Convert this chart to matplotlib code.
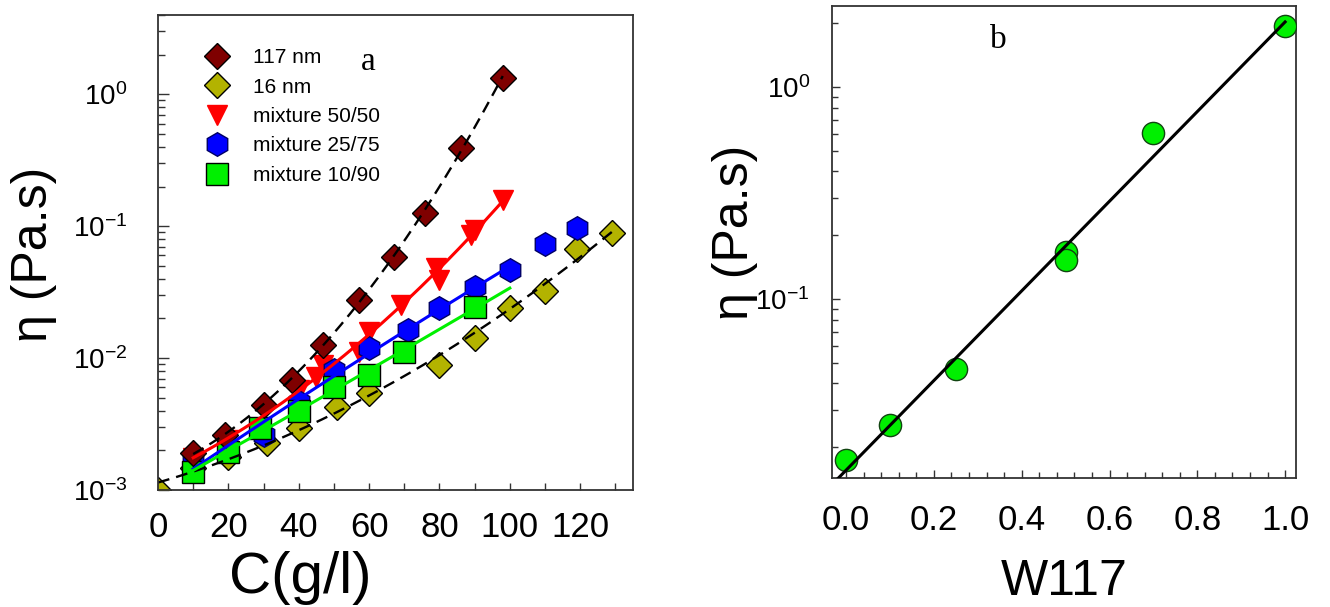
import numpy as np
import matplotlib
matplotlib.use("Agg")
import matplotlib.pyplot as plt
from matplotlib.ticker import LogLocator, NullFormatter, MultipleLocator, LogFormatterSciNotation

plt.rcParams['font.family'] = 'Liberation Sans'
plt.rcParams['mathtext.fontset'] = 'custom'
plt.rcParams['mathtext.rm'] = 'Liberation Sans'
plt.rcParams['mathtext.it'] = 'Liberation Sans:italic'
plt.rcParams['mathtext.bf'] = 'Liberation Sans:bold'
plt.rcParams['axes.unicode_minus'] = False

# panel a data: concentration (g/l) vs viscosity (Pa.s)
c_117 = [10, 19, 30, 38, 47, 57, 67, 76, 86, 98]
eta_117 = [1.91e-3, 2.62e-3, 4.42e-3, 6.84e-3, 0.0126, 0.0277, 0.0587, 0.127, 0.395, 1.34]

c_16 = [0, 10, 20, 31, 40, 51, 60, 80, 90, 100, 110, 119, 129]
eta_16 = [1.0e-3, 1.47e-3, 1.78e-3, 2.28e-3, 2.96e-3, 4.27e-3, 5.46e-3, 8.9e-3,
          0.01425, 0.0241, 0.0324, 0.0676, 0.0893]

c_5050 = [10, 20, 40, 45, 47, 57, 60, 69, 79, 80, 89, 90, 98]
eta_5050 = [1.75e-3, 2.4e-3, 5.7e-3, 7.2e-3, 8.9e-3, 0.0112, 0.0158, 0.0254,
            0.0485, 0.0394, 0.086, 0.0942, 0.159]

c_2575 = [10, 20, 30, 40, 50, 60, 71, 80, 90, 100, 110, 119]
eta_2575 = [1.66e-3, 2.1e-3, 2.6e-3, 4.65e-3, 8.1e-3, 0.012, 0.0164, 0.0241,
            0.0347, 0.0468, 0.0738, 0.0975]

c_1090 = [10, 20, 29, 40, 50, 60, 70, 90]
eta_1090 = [1.37e-3, 1.94e-3, 2.95e-3, 4.0e-3, 6.05e-3, 7.46e-3, 0.01117, 0.0245]

# panel b data: weight fraction of 117 nm particles
w117 = [0, 0.1, 0.25, 0.5, 0.5, 0.7, 1.0]
eta_w = [0.0174, 0.0255, 0.0468, 0.167, 0.153, 0.607, 1.94]

dark_red = '#7f0000'
olive = '#b3b300'
green = '#00f000'


def fit_line(x, y, lo, hi, deg=2):
    p = np.polyfit(x, np.log10(y), deg)
    xs = np.linspace(lo, hi, 200)
    return xs, 10 ** np.polyval(p, xs)


def style_axis(ax):
    for sp in ax.spines.values():
        sp.set_linewidth(1.3)
        sp.set_color('#333333')
    ax.tick_params(which='both', direction='in', top=False, right=False,
                   width=1.0, color='#333333')
    ax.tick_params(axis='x', labelsize=25)
    ax.tick_params(axis='y', labelsize=20)


fig = plt.figure(figsize=(13.3, 6.07), dpi=100)
ax1 = fig.add_axes([0.1188, 0.1928, 0.3571, 0.7825])
ax2 = fig.add_axes([0.6256, 0.2125, 0.3489, 0.7776])

# ---- panel a ----
h16, = ax1.plot(c_16, eta_16, 'D', ms=13.5, mfc=olive, mec='black', mew=1, ls='none', label='16 nm')
h50, = ax1.plot(c_5050, eta_5050, 'v', ms=15, mfc='#ff0000', mec='#ff0000', mew=1, ls='none', label='mixture 50/50')
h25, = ax1.plot(c_2575, eta_2575, 'h', ms=17, mfc='#0000ff', mec='#000066', mew=1, ls='none', label='mixture 25/75')
h10, = ax1.plot(c_1090, eta_1090, 's', ms=15.5, mfc=green, mec='black', mew=1, ls='none', label='mixture 10/90')
h117, = ax1.plot(c_117, eta_117, 'D', ms=13.5, mfc=dark_red, mec='black', mew=1, ls='none', label='117 nm')

xs, ys = fit_line(c_117, eta_117, 10, 98)
ax1.plot(xs, ys, color='black', lw=1.7, ls=(0, (5, 3)))
xs, ys = fit_line(c_16, eta_16, 0, 129)
ax1.plot(xs, ys, color='black', lw=1.7, ls=(0, (5, 3)))
xs, ys = fit_line(c_5050, eta_5050, 10, 100)
ax1.plot(xs, ys, color='#ff0000', lw=2.2)
xs, ys = fit_line(c_2575[:10], eta_2575[:10], 10, 100)
ax1.plot(xs, ys, color='#0000ff', lw=2.2)
xs, ys = fit_line(c_1090, eta_1090, 10, 100)
ax1.plot(xs, ys, color=green, lw=2.2)

ax1.set_yscale('log')
ax1.set_xlim(0, 135)
ax1.set_ylim(1e-3, 4.0)
ax1.xaxis.set_major_locator(MultipleLocator(20))
ax1.xaxis.set_minor_locator(MultipleLocator(10))
ax1.yaxis.set_major_locator(LogLocator(base=10))
ax1.yaxis.set_minor_locator(LogLocator(base=10, subs=np.arange(2, 10)))
ax1.yaxis.set_major_formatter(LogFormatterSciNotation())
ax1.yaxis.set_minor_formatter(NullFormatter())
style_axis(ax1)
ax1.tick_params(axis='y', which='major', length=8, pad=22)
ax1.tick_params(axis='y', which='minor', length=5)
ax1.tick_params(axis='x', which='both', length=5, pad=15)

ax1.set_xlabel('C(g/l)', fontsize=42)
ax1.xaxis.label.set_va('center')
ax1.xaxis.set_label_coords(0.30, -0.185)
ax1.set_ylabel('η (Pa.s)', fontsize=36)
ax1.yaxis.label.set_va('center')
ax1.yaxis.set_label_coords(-0.261, 0.495)

ax1.legend(handles=[h117, h16, h50, h25, h10], loc='upper left',
           bbox_to_anchor=(0.103, 0.93), frameon=False, fontsize=15,
           handlelength=1.0, handletextpad=1.2, labelspacing=0.5,
           borderpad=0, borderaxespad=0, numpoints=1)
ax1.text(0.442, 0.901, 'a', transform=ax1.transAxes, fontsize=24,
         family='Liberation Serif', ha='center', va='center')

# ---- panel b ----
ax2.plot(w117, eta_w, 'o', ms=16, mfc=green, mec='#114411', mew=1, ls='none', zorder=3)
xs, ys = fit_line(w117, eta_w, -0.02, 1.0, deg=1)
ax2.plot(xs, ys, color='black', lw=2.2, zorder=4)

ax2.set_yscale('log')
ax2.set_xlim(-0.032, 1.025)
ax2.set_ylim(0.0143, 2.41)
ax2.xaxis.set_major_locator(MultipleLocator(0.2))
ax2.xaxis.set_minor_locator(MultipleLocator(0.04))
ax2.xaxis.set_major_formatter(plt.FormatStrFormatter('%.1f'))
ax2.yaxis.set_major_locator(LogLocator(base=10))
ax2.yaxis.set_minor_locator(LogLocator(base=10, subs=np.arange(2, 10)))
ax2.yaxis.set_major_formatter(LogFormatterSciNotation())
ax2.yaxis.set_minor_formatter(NullFormatter())
style_axis(ax2)
ax2.tick_params(axis='y', which='major', length=6, pad=16)
ax2.tick_params(axis='y', which='minor', length=4)
ax2.tick_params(axis='x', which='major', length=6, pad=19)
ax2.tick_params(axis='x', which='minor', length=4)

ax2.set_xlabel('W117', fontsize=36)
ax2.xaxis.label.set_va('center')
ax2.xaxis.set_label_coords(0.5, -0.22)
ax2.set_ylabel('η (Pa.s)', fontsize=36)
ax2.yaxis.label.set_va('center')
ax2.yaxis.set_label_coords(-0.21, 0.52)
ax2.text(0.358, 0.928, 'b', transform=ax2.transAxes, fontsize=24,
         family='Liberation Serif', ha='center', va='center')

fig.savefig('out.png', dpi=100)
